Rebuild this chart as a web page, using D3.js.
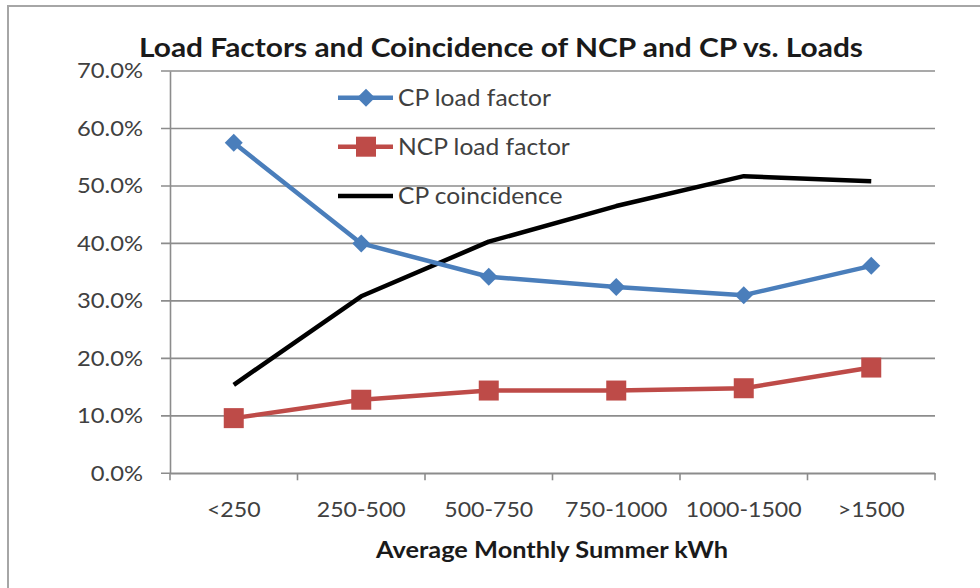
<!DOCTYPE html>
<html>
<head>
<meta charset="utf-8">
<script src="https://cdn.jsdelivr.net/npm/d3@7"></script>
<style>
  html, body { margin: 0; padding: 0; background: #fff; }
  svg { display: block; }
  text { font-family: Lato, "Open Sans", sans-serif; }
</style>
</head>
<body>
<svg id="chart" width="980" height="588"></svg>
<script>
const categories = ["<250", "250-500", "500-750", "750-1000", "1000-1500", ">1500"];
const cpLoadFactor = [0.575, 0.400, 0.342, 0.324, 0.310, 0.361];
const ncpLoadFactor = [0.096, 0.128, 0.144, 0.144, 0.148, 0.184];
const cpCoincidence = [0.154, 0.308, 0.403, 0.465, 0.517, 0.508];
const yTicks = [0, 0.1, 0.2, 0.3, 0.4, 0.5, 0.6, 0.7];
const seriesNames = ["CP load factor", "NCP load factor", "CP coincidence"];
const titleText = "Load Factors and Coincidence of NCP and CP vs. Loads";
const xTitleText = "Average Monthly Summer kWh";

(function () {
const svg = d3.select("#chart");
const W = 980, H = 588;
const pLeft = 170, pRight = 935, pTop = 71, pBottom = 473.3;

// stretch a group of texts horizontally so that a sample text matches a target width
function stretch(sel, sampleNode, targetW) {
  const sx = targetW / sampleNode.getComputedTextLength();
  sel.each(function () {
    const w = this.getComputedTextLength();
    d3.select(this).attr("textLength", w * sx).attr("lengthAdjust", "spacingAndGlyphs");
  });
}

// outer chart border
svg.append("rect").attr("x", 8).attr("y", 6).attr("width", W + 20).attr("height", H + 20)
  .attr("fill", "#fff").attr("stroke", "#a6a6a6").attr("stroke-width", 2);

const x = d3.scaleBand().domain(categories).range([pLeft, pRight]).padding(0);
const y = d3.scaleLinear().domain([0, 0.7]).range([pBottom, pTop]);

// gridlines
svg.append("g").selectAll("line").data(yTicks).join("line")
  .attr("x1", pLeft - 9).attr("x2", pRight)
  .attr("y1", d => y(d)).attr("y2", d => y(d))
  .attr("stroke", "#8c8c8c").attr("stroke-width", 1.6);

// y axis
const yAxis = svg.append("g").attr("transform", `translate(${pLeft},0)`)
  .call(d3.axisLeft(y).tickValues(yTicks).tickFormat(d3.format(".1%")).tickSize(0).tickPadding(27));
yAxis.select(".domain").attr("stroke", "#8c8c8c").attr("stroke-width", 1.6);
const yTexts = yAxis.selectAll("text").attr("font-size", 21.5).attr("fill", "#404040").attr("font-family", "Lato");
stretch(yTexts, yTexts.nodes()[3], 66);

// x axis
const xAxis = svg.append("g").attr("transform", `translate(0,${pBottom})`)
  .call(d3.axisBottom(x).tickSize(0).tickPadding(0));
xAxis.select(".domain").attr("stroke", "#8c8c8c").attr("stroke-width", 1.6);
const xTexts = xAxis.selectAll("text").attr("font-size", 21.5).attr("fill", "#404040")
  .attr("font-family", "Lato").attr("y", 36).attr("dy", "0.35em");
stretch(xTexts, xTexts.nodes()[1], 89);
// category boundary ticks
const bounds = categories.map(c => x(c)).concat([pRight]);
svg.append("g").selectAll("line").data(bounds).join("line")
  .attr("x1", d => d).attr("x2", d => d)
  .attr("y1", pBottom).attr("y2", pBottom + 7)
  .attr("stroke", "#8c8c8c").attr("stroke-width", 1.6);

const cx = d => x(d) + x.bandwidth() / 2;
const line = d3.line().x(d => cx(d.c)).y(d => y(d.v));
const toPts = arr => arr.map((v, i) => ({ c: categories[i], v }));

const blue = "#4a7ebb", red = "#be4b48", black = "#000";

// CP coincidence
svg.append("path").datum(toPts(cpCoincidence)).attr("d", line)
  .attr("fill", "none").attr("stroke", black).attr("stroke-width", 4.5).attr("stroke-linejoin", "round");
// NCP
svg.append("path").datum(toPts(ncpLoadFactor)).attr("d", line)
  .attr("fill", "none").attr("stroke", red).attr("stroke-width", 4.5).attr("stroke-linejoin", "round");
svg.append("g").selectAll("rect").data(toPts(ncpLoadFactor)).join("rect")
  .attr("x", d => cx(d.c) - 10).attr("y", d => y(d.v) - 10)
  .attr("width", 20).attr("height", 20).attr("fill", red);
// CP load factor
svg.append("path").datum(toPts(cpLoadFactor)).attr("d", line)
  .attr("fill", "none").attr("stroke", blue).attr("stroke-width", 4.5).attr("stroke-linejoin", "round");
const diamond = (px, py, r) => `M${px},${py - r}L${px + r},${py}L${px},${py + r}L${px - r},${py}Z`;
svg.append("g").selectAll("path").data(toPts(cpLoadFactor)).join("path")
  .attr("d", d => diamond(cx(d.c), y(d.v), 9)).attr("fill", blue);

// legend
const legY = [97.7, 146.7, 196];
const legColors = [blue, red, black];
const lg = svg.append("g");
seriesNames.forEach((name, i) => {
  lg.append("line").attr("x1", 338).attr("x2", 393).attr("y1", legY[i]).attr("y2", legY[i])
    .attr("stroke", legColors[i]).attr("stroke-width", 4.5);
  if (i === 0) lg.append("path").attr("d", diamond(366, legY[i], 9)).attr("fill", blue);
  if (i === 1) lg.append("rect").attr("x", 356).attr("y", legY[i] - 10).attr("width", 20).attr("height", 20).attr("fill", red);
  lg.append("text").attr("class", "leg").attr("x", 398).attr("y", legY[i]).attr("dy", "0.35em")
    .attr("font-size", 22.5).attr("fill", "#404040").text(name);
});
const legTexts = lg.selectAll("text.leg");
stretch(legTexts, legTexts.nodes()[0], 153);

// title
const t = svg.append("text").attr("x", 501).attr("y", 56.7).attr("text-anchor", "middle")
  .attr("font-size", 26.5).attr("font-weight", "bold").attr("fill", "#1a1a1a").text(titleText);
stretch(t, t.node(), 724);
// x-axis title
const xt = svg.append("text").attr("x", 552).attr("y", 558.3).attr("text-anchor", "middle")
  .attr("font-size", 22).attr("font-weight", "bold").attr("fill", "#1a1a1a").text(xTitleText);
stretch(xt, xt.node(), 352);
})();
</script>
</body>
</html>
